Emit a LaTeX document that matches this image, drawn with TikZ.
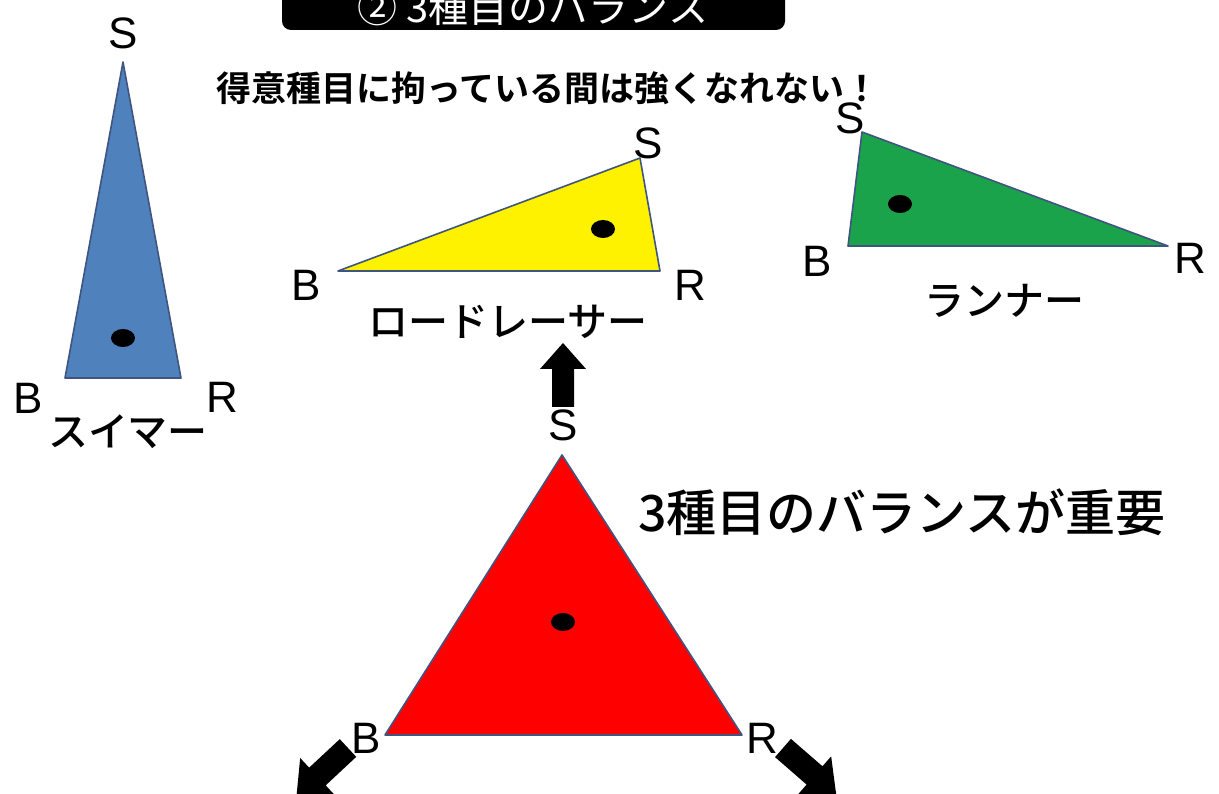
\documentclass[tikz,border=0pt]{standalone}
\usepackage{fontspec}
\setmainfont{Liberation Sans}
\newfontfamily\jp{Noto Sans CJK JP}
\newfontfamily\jpm{Noto Sans CJK JP Medium}
\newfontfamily\jpb{Noto Sans CJK JP Bold}
\definecolor{tblue}{HTML}{4F81BD}
\definecolor{tgreen}{HTML}{1AA34A}
\definecolor{edge}{HTML}{3F5580}
\tikzset{
  tri/.style={draw=edge, line width=1.6pt, line join=round},
  lbl/.style={font=\fontsize{44}{44}\selectfont, inner sep=0pt},
  jlbl/.style={font=\jpm\fontsize{40}{42}\selectfont, inner sep=0pt},
  dot/.style={fill=black},
}
\newcommand{\blockarrow}[4]{% x y angle scale
  \fill[black, shift={(#1,#2)}, rotate=#3, scale=#4]
    (0,-11) -- (38,-11) -- (38,-23) -- (64,0) -- (38,23) -- (38,11) -- (0,11) -- cycle;}
\begin{document}
\begin{tikzpicture}[x=1pt,y=-1pt]
\useasboundingbox (0,0) rectangle (1219,794);
\clip (0,0) rectangle (1219,794);
\fill[white] (0,0) rectangle (1219,794);
% banner
\fill[black, rounded corners=9pt] (282,-40) rectangle (785,30);
\node[text=white, font=\jp\fontsize{40}{40}\selectfont, inner sep=0pt] (title) at (533,7) {② 3種目のバランス};
\node[font=\jpb\fontsize{35}{37}\selectfont, inner sep=0pt, anchor=west] (sub) at (216,88) {得意種目に拘っている間は強くなれない！};
% swimmer
\filldraw[tri, fill=tblue] (123,62) -- (65,378) -- (181,378) -- cycle;
\fill[dot] (123,338) ellipse (12pt and 9pt);
\node[lbl] (s1) at (123,33) {S};
\node[lbl] (b1) at (28,398) {B};
\node[lbl] (r1) at (222,397) {R};
\node[jlbl] (n1) at (128,432) {スイマー};
% road racer
\filldraw[tri, fill=yellow] (338,271) -- (640,158) -- (660,271) -- cycle;
\fill[dot] (603,229) ellipse (12pt and 9pt);
\node[lbl] (s2) at (648,143) {S};
\node[lbl] (b2) at (306,285) {B};
\node[lbl] (r2) at (690,285) {R};
\node[jlbl] (n2) at (508,322) {ロードレーサー};
% runner
\filldraw[tri, fill=tgreen] (862,132) -- (848,246) -- (1168,246) -- cycle;
\fill[dot] (900,204) ellipse (12pt and 9pt);
\node[lbl] (s3) at (850,118) {S};
\node[lbl] (b3) at (817,261) {B};
\node[lbl] (r3) at (1190,258) {R};
\node[jlbl] (n3) at (1004,301) {ランナー};
% balanced
\filldraw[tri, fill=red] (562,455) -- (385,735) -- (742,735) -- cycle;
\fill[dot] (563,622) ellipse (12pt and 9pt);
\node[lbl] (s4) at (563,425) {S};
\node[lbl] (b4) at (366,738) {B};
\node[lbl] (r4) at (762,738) {R};
\node[font=\jpm\fontsize{50}{52}\selectfont, inner sep=0pt, anchor=west] (imp) at (638,512) {3種目のバランスが重要};
% arrows
\blockarrow{563}{407}{90}{1}
\blockarrow{348}{748}{223}{1.1}
\blockarrow{783}{748}{-41}{1.1}
\end{tikzpicture}
\end{document}
